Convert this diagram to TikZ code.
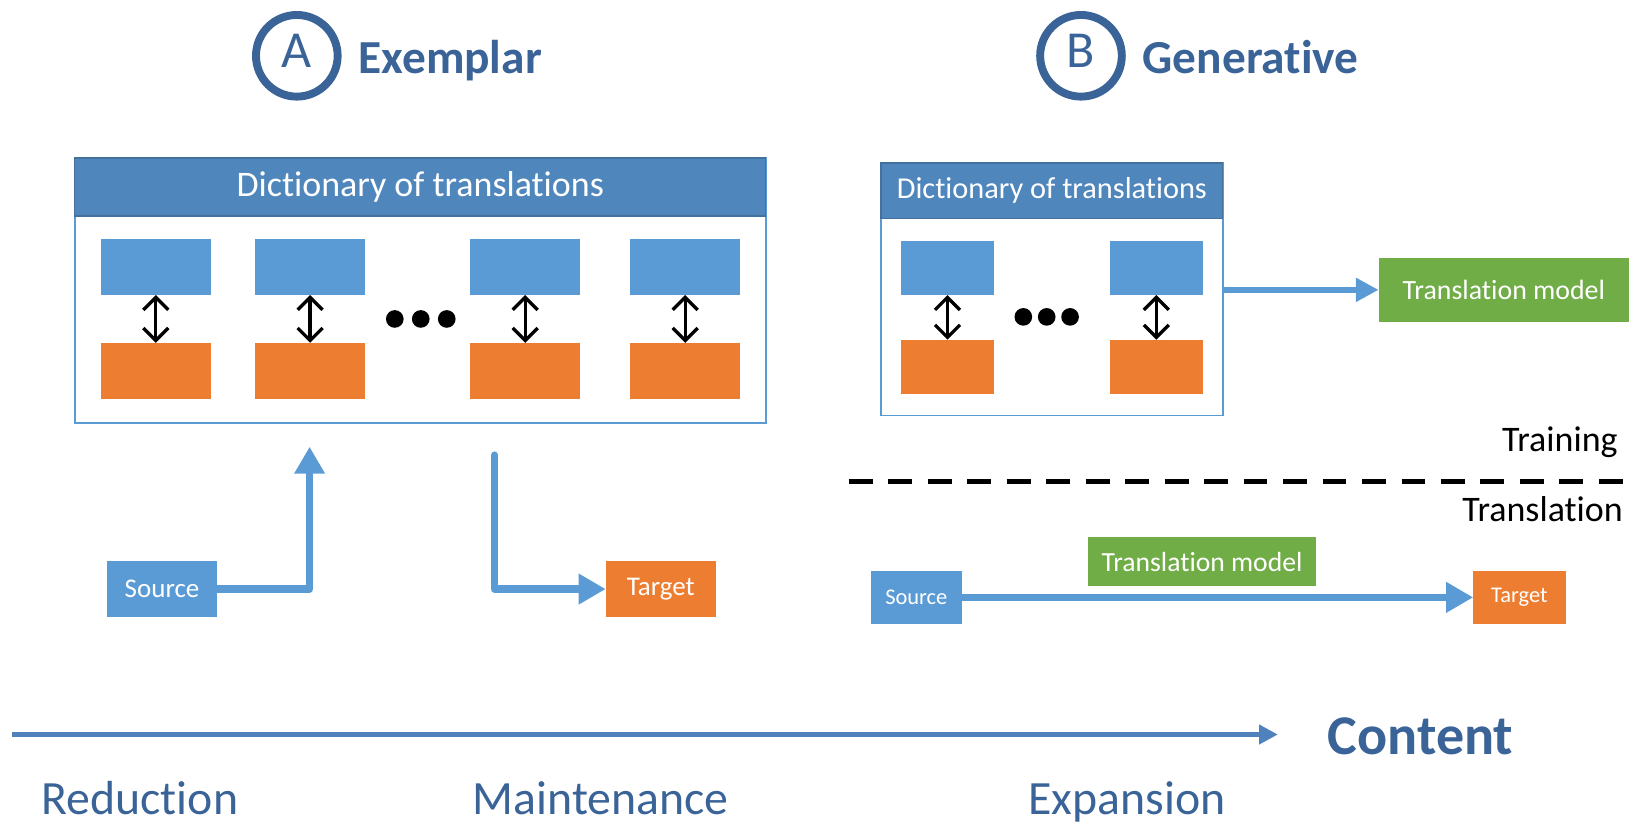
\documentclass[tikz,border=0pt]{standalone}
\usepackage{fontspec}
\setmainfont{Carlito}[Ligatures=NoCommon]
\usetikzlibrary{arrows.meta}

\definecolor{boxblue}{HTML}{5B9BD5}
\definecolor{boxorange}{HTML}{ED7D31}
\definecolor{boxgreen}{HTML}{70AD47}
\definecolor{headblue}{HTML}{4F86BC}
\definecolor{headedge}{HTML}{41719C}
\definecolor{titleblue}{HTML}{3A6398}
\definecolor{axisblue}{HTML}{4F81BD}

\newcommand{\fsz}[1]{\fontsize{#1}{1.2\dimexpr#1\relax}\selectfont}

\begin{document}
\begin{tikzpicture}[x=0.5pt,y=-0.5pt,
  every node/.style={inner sep=0pt, outer sep=0pt},
  srcbox/.style={fill=boxblue, text=white},
  tgtbox/.style={fill=boxorange, text=white},
  modelbox/.style={fill=boxgreen, text=white},
  dictframe/.style={draw=boxblue, line width=0.8pt, fill=white},
  dicthead/.style={fill=headblue, draw=headedge, line width=0.6pt, text=white},
  pairlink/.style={draw=black, line width=1.6pt, {Straight Barb[length=6pt,width=12pt]}-{Straight Barb[length=6pt,width=12pt]}},
  flow/.style={draw=boxblue, line width=3.5pt, line join=round, -{Triangle[length=13pt,width=14pt]}},
  flowthin/.style={draw=boxblue, line width=2.9pt, -{Triangle[length=11pt,width=11pt]}},
  axis/.style={draw=axisblue, line width=2.8pt, -{Triangle[length=9pt,width=9pt]}},
  badge/.style={circle, draw=titleblue, line width=3.8pt, minimum size=39.3pt},
  badgeletter/.style={text=titleblue, font=\fsz{25pt}},
  title/.style={text=titleblue, font=\fsz{22.8pt}\bfseries},
  scale label/.style={text=titleblue, font=\fsz{23pt}},
  separator/.style={draw=black, line width=2.2pt, dash pattern=on 11.5pt off 7.5pt},
]
\useasboundingbox (0,0) rectangle (1568,793);

% ---------- headings ----------
\node[badge] (badgeA) at (285.7,53.7) {};
\node[badgeletter, anchor=base] (letterA) at (285.7,65) {A};
\node[title, anchor=base west] (exemplar) at (345,71) {Exemplar};

\node[badge] (badgeB) at (1040.5,53.7) {};
\node[badgeletter, anchor=base] (letterB) at (1040.5,65) {B};
\node[title, anchor=base west] (generative) at (1100,71) {Generative};

% ---------- exemplar dictionary ----------
\node[dictframe, minimum width=332.5pt, minimum height=127.5pt] (dictA) at (404.5,279.5) {};
\node[dicthead, minimum width=332.5pt, minimum height=28pt, font=\fsz{17.3pt}] (headA) at (404.5,180) {Dictionary of translations};

\foreach \i/\x in {1/150,2/298.5,3/505.5,4/659.5}{
  \node[srcbox, minimum width=53pt, minimum height=27pt] (as\i) at (\x,257) {};
  \node[tgtbox, minimum width=53pt, minimum height=27pt] (at\i) at (\x,357) {};
  \draw[pairlink] (as\i.south) -- (at\i.north);
}
\foreach \x in {380,405,430}{ \fill (\x,307) circle (4.25pt); }

% exemplar lookup
\node[srcbox, minimum width=53pt, minimum height=27pt, font=\fsz{13pt}] (srcA) at (156,567) {Source};
\node[tgtbox, minimum width=53pt, minimum height=27pt, font=\fsz{13pt}] (tgtA) at (636,567) {Target};
\coordinate (upTip) at (298,430);
\coordinate (downStart) at (476,438);
\draw[flow] (srcA.east) -| (upTip);
\draw[flow, line cap=round] (downStart) |- (tgtA.west);

% ---------- generative dictionary ----------
\node[dictframe, minimum width=164.5pt, minimum height=121.5pt] (dictB) at (1012.5,278.5) {};
\node[dicthead, minimum width=164.5pt, minimum height=26.5pt, font=\fsz{14.6pt}] (headB) at (1012.5,183.5) {Dictionary of translations};

\foreach \i/\x in {1/912,2/1113}{
  \node[srcbox, minimum width=45pt, minimum height=26pt] (bs\i) at (\x,258) {};
  \node[tgtbox, minimum width=45pt, minimum height=26pt] (bt\i) at (\x,353) {};
  \draw[pairlink] (bs\i.south) -- (bt\i.north);
}
\foreach \x in {985,1007.5,1030}{ \fill (\x,305) circle (4.25pt); }

\node[modelbox, minimum width=120.5pt, minimum height=31pt, font=\fsz{13.4pt}] (modelA) at (1447.5,279) {Translation model};
\draw[flowthin] (dictB.east |- modelA.west) -- (modelA.west);

% training / translation split
\node[anchor=base east, font=\fsz{17.3pt}] (training) at (1557,435) {Training};
\coordinate (dashL) at (817,463.5);
\coordinate (dashR) at (1568,463.5);
\draw[separator] (dashL) -- (dashR);
\node[anchor=base east, font=\fsz{17.3pt}] (translation) at (1562,502) {Translation};

\node[srcbox, minimum width=44pt, minimum height=25.5pt, font=\fsz{10.8pt}] (srcB) at (882,575) {Source};
\node[tgtbox, minimum width=44.5pt, minimum height=25.5pt, font=\fsz{10.8pt}] (tgtB) at (1462.5,575) {Target};
\node[modelbox, minimum width=110pt, minimum height=23.5pt, font=\fsz{13.3pt}] (modelB) at (1157,540.5) {Translation model};
\draw[flow, line width=3.2pt] (srcB.east) -- (tgtB.west);

% ---------- content axis ----------
\coordinate (axisL) at (12,707);
\coordinate (axisR) at (1230,707);
\draw[axis] (axisL) -- (axisR);
\node[anchor=base west, text=titleblue, font=\fsz{27pt}\bfseries] (content) at (1278,726) {Content};

\node[scale label, anchor=base west] (reduction) at (40,784) {Reduction};
\node[scale label, anchor=base west] (maintenance) at (455,784) {Maintenance};
\node[scale label, anchor=base west] (expansion) at (990,784) {Expansion};
\end{tikzpicture}
\end{document}
